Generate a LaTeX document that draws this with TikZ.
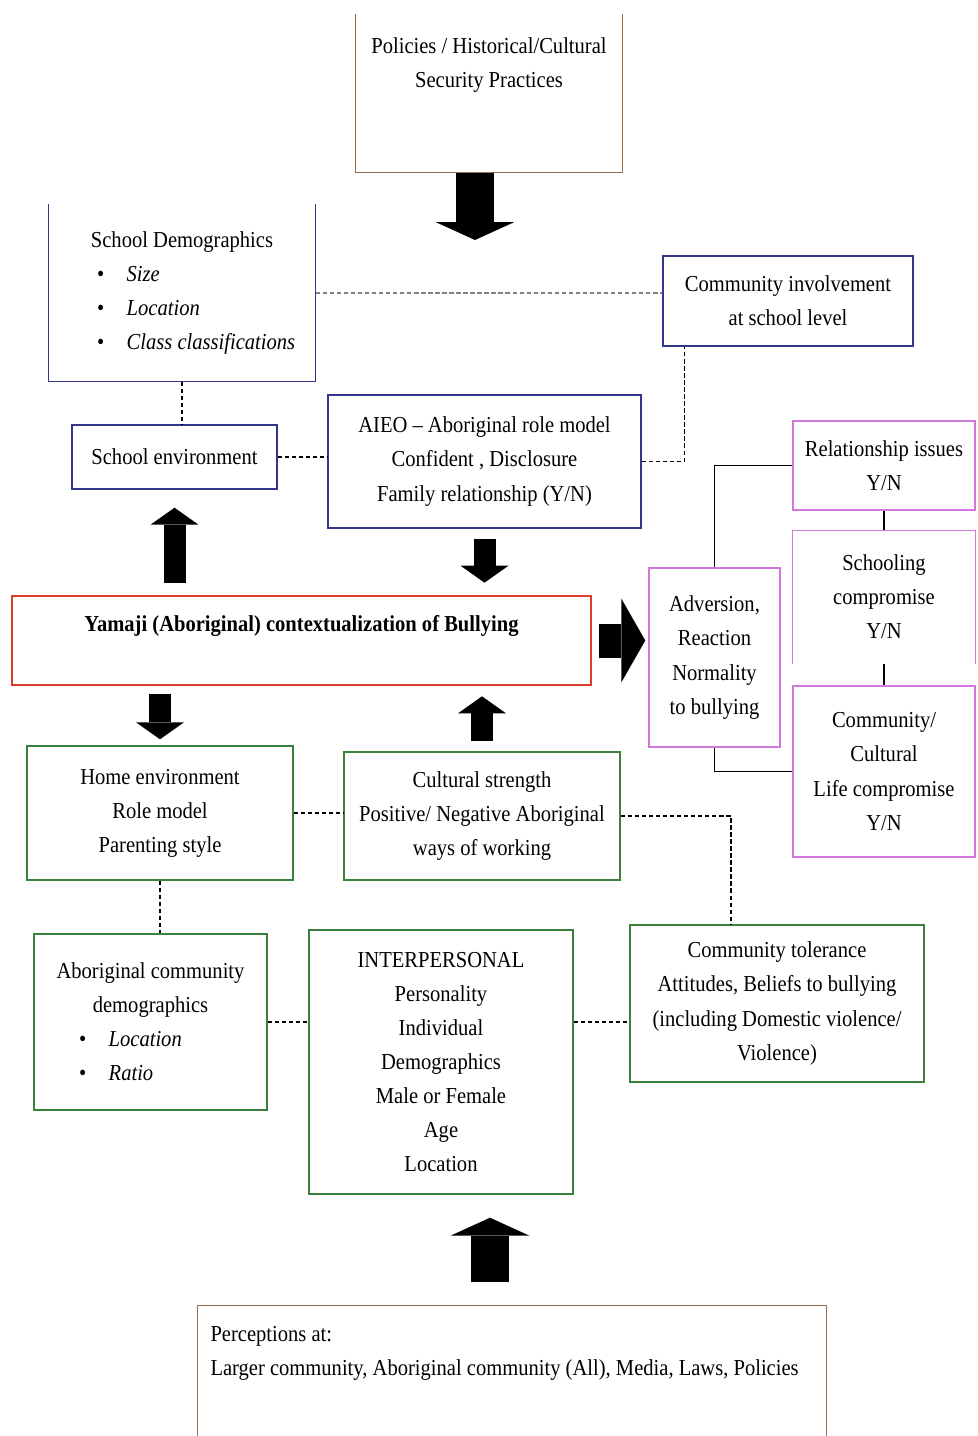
\documentclass[tikz,border=0pt]{standalone}
\usepackage{fontspec}
\setmainfont{Liberation Serif}[FakeStretch=0.9]
\usetikzlibrary{arrows.meta}
\definecolor{boxbrown}{RGB}{150,110,75}
\definecolor{boxblue}{RGB}{50,55,140}
\definecolor{boxred}{RGB}{220,60,40}
\definecolor{boxgreen}{RGB}{60,130,60}
\definecolor{boxpink}{RGB}{210,120,220}
\newcommand{\bulitem}[3]{\makebox[#1][l]{\hspace*{#2}\textbullet\hspace{0.45cm}\textit{#3}}}

\begin{document}
\begin{tikzpicture}[font=\fontsize{13}{19.4}\selectfont,
    box/.style={rectangle, align=center, line width=0.8pt, inner sep=0pt},
    bluebox/.style={box, draw=boxblue},
    greenbox/.style={box, draw=boxgreen},
    pinkbox/.style={box, draw=boxpink},
    dashline/.style={dash pattern=on 2.5pt off 1.5pt, line width=0.6pt},
    bigarrow/.style={line width=0.76cm, -{Triangle[width=1.58cm, length=0.36cm, line width=0pt]}},
    midarrow/.style={line width=0.44cm, -{Triangle[width=0.96cm, length=0.34cm, line width=0pt]}}]
\useasboundingbox (0,0) rectangle (19.54,-28.72);

% top
\node[box, minimum width=5.32cm, minimum height=3.14cm,
    label={[anchor=north, yshift=-0.34cm, align=center]north:{Policies / Historical/Cultural\\Security Practices}}] (policies) at (9.78,-1.87) {};
\draw[boxbrown, line width=0.8pt] (policies.north west) -- (policies.south west) -- (policies.south east) -- (policies.north east);
\coordinate (poltip) at (9.5,-4.8);
\draw[bigarrow] (poltip |- policies.south) -- (poltip);

% school level
\node[box, minimum width=5.32cm, minimum height=3.52cm] (schooldemo) at (3.64,-5.86) {School Demographics\\ \bulitem{5.32cm}{0.96cm}{Size}\\ \bulitem{5.32cm}{0.96cm}{Location}\\ \bulitem{5.32cm}{0.96cm}{Class classifications}};
\draw[boxblue, line width=0.8pt] (schooldemo.north west) -- (schooldemo.south west) -- (schooldemo.south east) -- (schooldemo.north east);
\node[bluebox, minimum width=5cm, minimum height=1.8cm] (comminv) at (15.76,-6.02) {Community involvement\\at school level};
\node[bluebox, minimum width=4.1cm, minimum height=1.28cm] (schenv) at (3.49,-9.14) {School environment};
\node[bluebox, minimum width=6.26cm, minimum height=2.66cm] (aieo) at (9.69,-9.23) {AIEO -- Aboriginal role model\\Confident , Disclosure\\Family relationship (Y/N)};

\draw[dashline, gray] (schooldemo.east) -- (schooldemo.east -| comminv.west);
\draw[dashline] (schooldemo.south) -- (schooldemo.south |- schenv.north);
\draw[dashline] (schenv.east) -- (schenv.east -| aieo.west);
\draw[dashline] (aieo.east) -| ([xshift=0.44cm]comminv.south west);

% centre
\node[box, draw=boxred, line width=1.5pt, minimum width=11.58cm, minimum height=1.78cm,
    label={[anchor=north, yshift=-0.3cm]north:\textbf{Yamaji (Aboriginal) contextualization of Bullying}}] (yamaji) at (6.03,-12.81) {};
\draw[midarrow, shorten <=0.24cm, shorten >=0.36cm] (schenv.south |- yamaji.north) -- (schenv.south);
\draw[midarrow, shorten <=0.2cm, shorten >=0.24cm] (aieo.south) -- (aieo.south |- yamaji.north);

% right side
\node[pinkbox, minimum width=2.62cm, minimum height=3.58cm] (adversion) at (14.29,-13.15) {Adversion,\\Reaction\\Normality\\to bullying};
\node[pinkbox, minimum width=3.64cm, minimum height=1.78cm] (relation) at (17.68,-9.31) {Relationship issues\\Y/N};
\node[box, minimum width=3.64cm, minimum height=2.64cm] (schooling) at (17.68,-11.94) {Schooling\\compromise\\Y/N};
\draw[boxpink, line width=0.8pt] (schooling.south west) -- (schooling.north west) -- (schooling.north east) -- (schooling.south east);
\node[pinkbox, minimum width=3.64cm, minimum height=3.42cm] (commlife) at (17.68,-15.43) {Community/\\Cultural\\Life compromise\\Y/N};

\draw[line width=0.68cm, -{Triangle[width=1.68cm, length=0.48cm, line width=0pt]}, shorten <=0.14cm, shorten >=0.06cm] (yamaji.east) -- (yamaji.east -| adversion.west);
\draw[line width=0.7pt] (adversion.north) |- (relation.west);
\draw[line width=0.7pt] (adversion.south) |- (commlife.west);
\draw[line width=0.7pt] (relation.south) -- (schooling.north);
\draw[line width=0.7pt] (schooling.south) -- (commlife.north);

% home level
\node[greenbox, minimum width=5.32cm, minimum height=2.68cm] (home) at (3.2,-16.26) {Home environment\\Role model\\Parenting style};
\node[greenbox, minimum width=5.52cm, minimum height=2.56cm] (cultural) at (9.64,-16.32) {Cultural strength\\Positive/ Negative Aboriginal\\ways of working};
\draw[midarrow, shorten <=0.16cm, shorten >=0.12cm] (home.north |- yamaji.south) -- (home.north);
\draw[midarrow, shorten <=0.2cm, shorten >=0.2cm] (cultural.north) -- (cultural.north |- yamaji.south);

% community level
\node[greenbox, minimum width=4.66cm, minimum height=3.52cm] (aborig) at (3.01,-20.44) {Aboriginal community\\demographics\\ \bulitem{4.66cm}{0.9cm}{Location}\\ \bulitem{4.66cm}{0.9cm}{Ratio}};
\node[greenbox, minimum width=5.28cm, minimum height=5.28cm] (inter) at (8.82,-21.24) {INTERPERSONAL\\Personality\\Individual\\Demographics\\Male or Female\\Age\\Location};
\node[greenbox, minimum width=5.88cm, minimum height=3.14cm] (commtol) at (15.54,-20.07) {Community tolerance\\Attitudes, Beliefs to bullying\\(including Domestic violence/\\Violence)};

\draw[dashline] (home.east) -- (home.east -| cultural.west);
\draw[dashline] (cultural.east) -| ([xshift=-0.92cm]commtol.north);
\draw[dashline] (home.south) -- (home.south |- aborig.north);
\draw[dashline] (aborig.east) -- (aborig.east -| inter.west);
\draw[dashline] (inter.east |- aborig.east) -- (aborig.east -| commtol.west);

% bottom
\node[box, minimum width=12.56cm, minimum height=2.6cm,
    label={[anchor=north west, xshift=0.14cm, yshift=-0.3cm, align=left]north west:{Perceptions at:\\Larger community, Aboriginal community (All), Media, Laws, Policies}}] (percep) at (10.24,-27.42) {};
\draw[boxbrown, line width=0.8pt] (percep.south west) -- (percep.north west) -- (percep.north east) -- (percep.south east);
\draw[bigarrow, shorten <=0.46cm, shorten >=0.46cm] ([xshift=-0.44cm]percep.north) -- ([xshift=-0.44cm]percep.north |- inter.south);
\end{tikzpicture}
\end{document}
